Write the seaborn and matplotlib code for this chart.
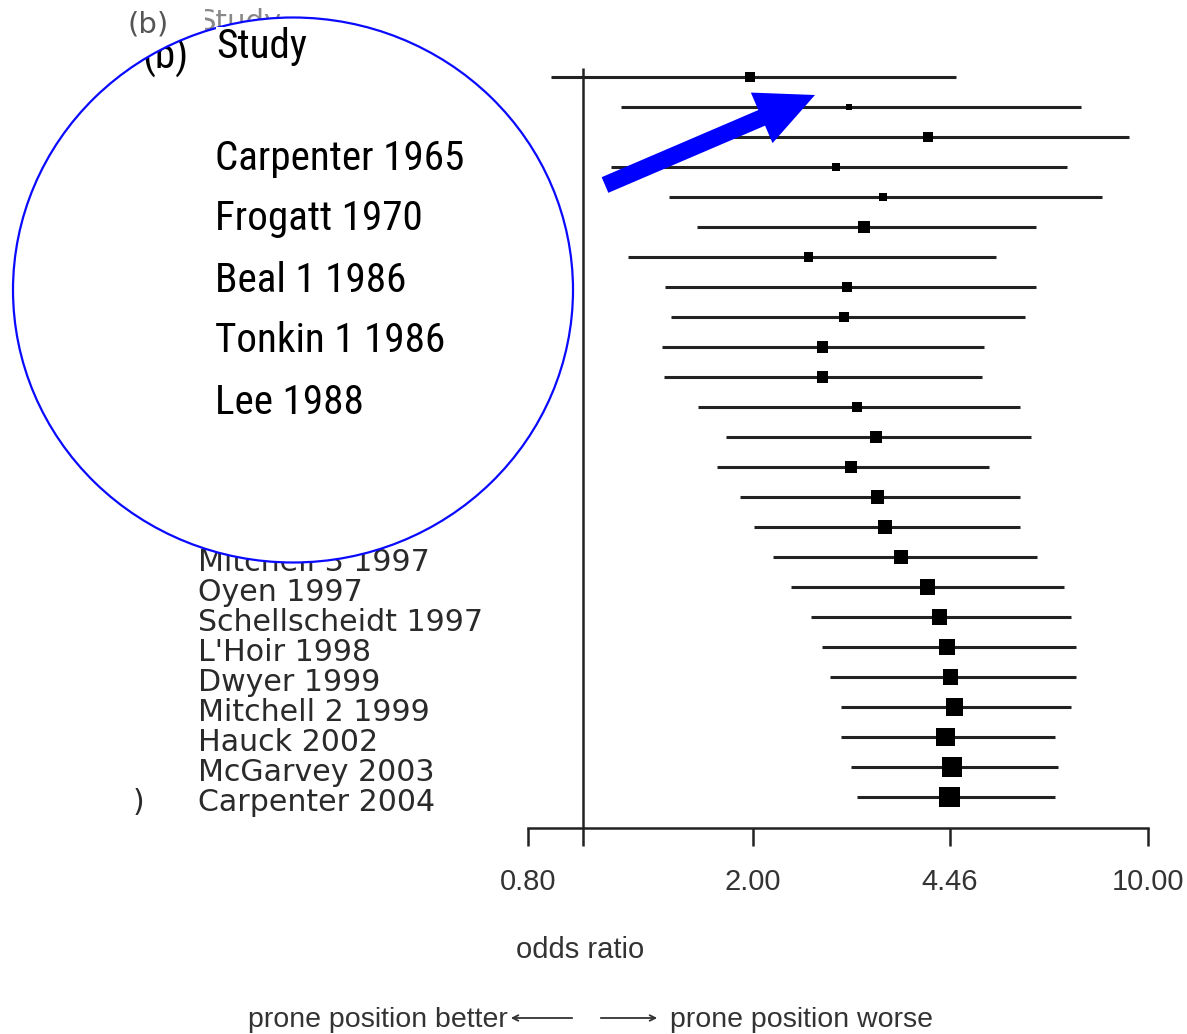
import numpy as np
import pandas as pd
import seaborn as sns
from matplotlib import pyplot as plt
from matplotlib.patches import Ellipse, FancyArrow, Polygon
from matplotlib.ticker import NullLocator

# cumulative meta-analysis, one row per added study (labels of rows 6-16 are hidden under the lens)
studies = ['Carpenter 1965', 'Frogatt 1970', 'Beal 1 1986', 'Tonkin 1 1986', 'Lee 1988',
           '', '', '', '', '', '', '', '', '', '', '',
           'Mitchell 3 1997', 'Oyen 1997', 'Schellscheidt 1997', "L'Hoir 1998", 'Dwyer 1999',
           'Mitchell 2 1999', 'Hauck 2002', 'McGarvey 2003', 'Carpenter 2004']
odds = [1.98, 2.96, 4.08, 2.81, 3.40, 3.15, 2.51, 2.94, 2.90, 2.65, 2.65, 3.05, 3.30,
        2.98, 3.32, 3.42, 3.66, 4.07, 4.27, 4.41, 4.48, 4.54, 4.38, 4.50, 4.46]
lower = [0.88, 1.17, 1.79, 1.12, 1.42, 1.59, 1.20, 1.40, 1.43, 1.38, 1.39, 1.60, 1.79,
         1.73, 1.90, 2.01, 2.17, 2.34, 2.53, 2.65, 2.74, 2.86, 2.86, 2.98, 3.05]
upper = [4.57, 7.61, 9.26, 7.19, 8.30, 6.34, 5.39, 6.34, 6.06, 5.13, 5.09, 5.94, 6.21,
         5.24, 5.94, 5.94, 6.37, 7.11, 7.31, 7.46, 7.46, 7.31, 6.85, 6.94, 6.85]
weight = [100, 36, 100, 64, 64, 144, 81, 100, 100, 121, 121, 100, 144, 144, 169, 196,
          196, 225, 225, 256, 225, 289, 361, 400, 441]
tick_vals = [0.8, 1.0, 2.0, 4.46, 10.0]
tick_labels = ['0.80', '', '2.00', '4.46', '10.00']

df = pd.DataFrame({'study': studies, 'odds': odds, 'lower': lower, 'upper': upper,
                   'weight': weight})
df['row'] = np.arange(len(df))

sns.set_style('white')
plt.rcParams['font.family'] = ['DejaVu Sans']
arial = ['Liberation Sans', 'DejaVu Sans']
narrow = ['Liberation Sans Narrow', 'Noto Sans ExtraCondensed', 'Noto Sans Condensed',
          'Roboto Condensed', 'Open Sans Condensed', 'DejaVu Sans Condensed',
          'Liberation Sans']

W, H = 1187, 1034
fig = plt.figure(figsize=(W / 100, H / 100), dpi=100)
fig.patch.set_facecolor('white')

# forest plot axes, placed so that 0.80 .. 10.00 spans the drawn axis
ax = fig.add_axes([528 / W, (H - 828) / H, 620 / W, (828 - 62) / H])
ax.set_zorder(1)
ax.hlines(df['row'], df['lower'], df['upper'], color='#222222', lw=2.2)
sns.scatterplot(data=df, x='odds', y='row', size='weight', sizes=(18.7, 228.6),
                size_norm=(36, 441), marker='s', color='black', linewidth=0,
                legend=False, ax=ax, zorder=3)
ax.set_xscale('log')
ax.set_xlim(0.8, 10)
ax.set_ylim((828 - 77) / 30, (62 - 77) / 30)
ax.vlines(1.0, -0.3, (828 - 77) / 30, color='#222222', lw=1.8)
ax.xaxis.set_minor_locator(NullLocator())
ax.set_xticks(tick_vals)
ax.set_xticklabels(tick_labels, family=arial, fontsize=21, color='#333333')
ax.set_yticks([])
ax.set_xlabel('')
ax.set_ylabel('')
for side in ['top', 'right', 'left']:
    ax.spines[side].set_visible(False)
ax.spines['bottom'].set_linewidth(1.8)
ax.spines['bottom'].set_color('#222222')
ax.tick_params(axis='x', bottom=True, direction='out', length=13, width=1.8,
               color='#222222', pad=16)

for _, r in df.iterrows():
    if r['study']:
        ax.text(-0.532, r['row'] + 0.17, r['study'], transform=ax.get_yaxis_transform(),
                ha='left', va='center', fontsize=21.6, color='#2a2a2a')
ax.text(-0.638, 24.17, ')', transform=ax.get_yaxis_transform(), ha='left',
        va='center', fontsize=21.6, color='#2a2a2a')

fig.text(580 / W, 1 - 950 / H, 'odds ratio', ha='center', va='center', family=arial,
         fontsize=21, color='#333333')
fig.text(508 / W, 1 - 1020 / H, 'prone position better', ha='right', va='center',
         family=arial, fontsize=20.5, color='#333333')
fig.text(670 / W, 1 - 1020 / H, 'prone position worse', ha='left', va='center',
         family=arial, fontsize=20.5, color='#333333')

# overlay in pixel coordinates: magnifying lens and pointer
ov = fig.add_axes([0, 0, 1, 1])
ov.set_zorder(2)
ov.set_xlim(0, W)
ov.set_ylim(H, 0)
ov.axis('off')
ov.patch.set_alpha(0)

ov.annotate('', xy=(508, 1018), xytext=(575, 1018),
            arrowprops=dict(arrowstyle='->', lw=1.3, color='#333333'))
ov.annotate('', xy=(660, 1018), xytext=(598, 1018),
            arrowprops=dict(arrowstyle='->', lw=1.3, color='#333333'))

cx, cy, rx, ry = 293, 290, 280, 272.5
lens = Ellipse((cx, cy), 2 * rx, 2 * ry, facecolor='white', edgecolor='none', zorder=3)
ov.add_patch(lens)

kw = dict(ha='left', va='center', family=narrow, fontstretch='condensed', fontsize=33,
          color='black', zorder=4)
mag_b = ov.text(142, 57, '(b)', **kw)
mag_study = ov.text(216, 46, 'Study', **kw)
mag_study.set_zorder(4.8)
mag_study.set_bbox(dict(facecolor='white', edgecolor='none', pad=0))
mag = [mag_b, mag_study]
for i, name in enumerate(studies[:5]):
    mag.append(ov.text(215, 158 + 61 * i, name, **kw))

# magnified labels: fit "Carpenter 1965" to its width in the lens,
# but keep each line box inside the 61 px line pitch
renderer = fig.canvas.get_renderer()
box = mag[2].get_window_extent(renderer=renderer)
size = 33 * min(250 / box.width, 59 / box.height)
for t in mag:
    t.set_fontsize(size)

# white mask hiding the magnified "(b)" where it leaves the lens
arc_x = np.linspace(100, 205, 60)
arc_y = cy - ry * np.sqrt(1 - ((arc_x - cx) / rx) ** 2)
mask = np.column_stack([np.r_[100, arc_x, 205], np.r_[0, arc_y, 0]])
ov.add_patch(Polygon(mask, closed=True, facecolor='white', edgecolor='none', zorder=4.5))
ov.add_patch(Ellipse((cx, cy), 2 * rx, 2 * ry, facecolor='none', edgecolor='#0a0aff',
                     lw=1.6, zorder=4.6))

ov.text(128, 25, '(b)', ha='left', va='center', fontsize=21, color='#555555', zorder=4.7)
ov.text(197, 22, 'Study', ha='left', va='center', fontsize=21, color='#888888', zorder=2)

ov.add_patch(FancyArrow(605, 185, 210, -90, width=17, head_width=55, head_length=58,
                        length_includes_head=True, color='#0000ff', lw=0, zorder=5))

fig.savefig('out.png', dpi=100, facecolor='white')
